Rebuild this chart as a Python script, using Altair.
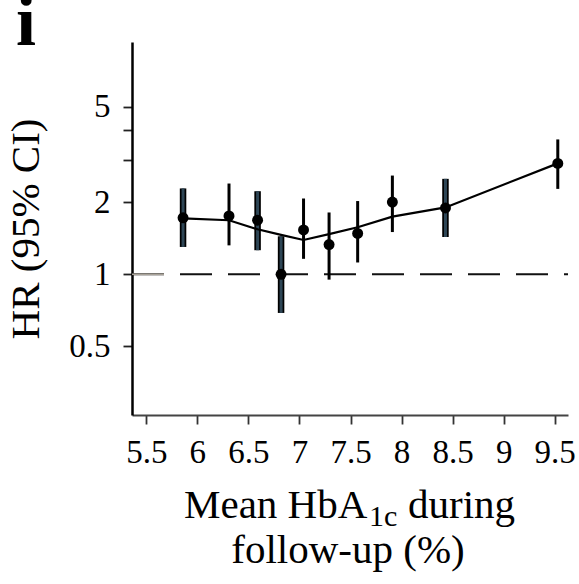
import altair as alt
import pandas as pd

# ---- data ----
hba1c   = [5.86, 6.31, 6.59, 6.82, 7.04, 7.29, 7.57, 7.91, 8.43, 9.53]
hr      = [1.72, 1.75, 1.68, 1.00, 1.53, 1.33, 1.48, 2.00, 1.89, 2.90]
ci_low  = [1.30, 1.32, 1.26, 0.69, 1.16, 0.95, 1.12, 1.50, 1.43, 2.27]
ci_high = [2.28, 2.39, 2.22, 1.44, 2.07, 1.81, 2.02, 2.58, 2.50, 3.65]
fit_hr  = [1.71, 1.68, 1.54, 1.46, 1.39, 1.47, 1.57, 1.74, 1.90, 2.90]
wide_ci = [True, False, True, True, False, False, False, False, True, False]

x_ticks = [5.5, 6, 6.5, 7, 7.5, 8, 8.5, 9, 9.5]
y_ticks = [0.5, 1, 2, 3, 4, 5]
ref_hr = [1.0]

panel_label = "i"
ytitle = "HR (95% CI)"
xtitle_main = "Mean HbA"
xtitle_sub = "1c"
xtitle_rest = "during"
xtitle_line2 = "follow-up (%)"

W, H = 436, 373
FONT = "Liberation Serif"

df = pd.DataFrame({"x": hba1c, "hr": hr, "lo": ci_low, "hi": ci_high,
                   "fit": fit_hr, "wide": wide_ci})
ref = pd.DataFrame({"y": ref_hr})

xs = alt.Scale(domain=[5.36, 9.63], nice=False, zero=False)
ys = alt.Scale(type="log", domain=[0.259, 9.3], nice=False)

xaxis = alt.Axis(values=x_ticks, format="~g", title=None, grid=False,
                 labelFont=FONT, labelFontSize=33, labelColor="black",
                 tickSize=9, tickWidth=1.8, tickColor="#333",
                 domainColor="#444", domainWidth=2, labelPadding=12,
                 labelFlush=False, labelOverlap=False)
yaxis = alt.Axis(values=y_ticks, format="~g", grid=False,
                 labelExpr="datum.value == 3 || datum.value == 4 ? '' : datum.label",
                 labelFont=FONT, labelFontSize=33, labelColor="black",
                 tickSize=9, tickWidth=1.8, tickColor="#222",
                 domainColor="black", domainWidth=2.5, labelPadding=13,
                 labelFlush=False, labelOverlap=False,
                 title=ytitle, titleFont=FONT, titleFontSize=41,
                 titleFontWeight="normal", titleColor="black",
                 titleAngle=270, titleX=-94, titleY=H / 2,
                 titleAlign="center", titleBaseline="alphabetic")

base = alt.Chart(df)

refline = alt.Chart(ref).mark_rule(color="#111", strokeWidth=2,
                                   strokeDash=[32, 16]).encode(
    y=alt.Y("y:Q", scale=ys, axis=yaxis),
    x=alt.value(0), x2=alt.value(W))
refgrey = alt.Chart(ref).mark_rule(color="#a8a298", strokeWidth=1.6).encode(
    y=alt.Y("y:Q", scale=ys), x=alt.value(0), x2=alt.value(32))

bars_thin = base.transform_filter("!datum.wide").mark_rule(
    color="black", strokeWidth=3).encode(
    x=alt.X("x:Q", scale=xs, axis=xaxis),
    y=alt.Y("lo:Q", scale=ys), y2="hi:Q")
bars_wide_outer = base.transform_filter("datum.wide").mark_rule(
    color="black", strokeWidth=6.5).encode(
    x=alt.X("x:Q", scale=xs), y=alt.Y("lo:Q", scale=ys), y2="hi:Q")
bars_wide_inner = base.transform_filter("datum.wide").mark_rule(
    color="#2e4656", strokeWidth=3).encode(
    x=alt.X("x:Q", scale=xs), y=alt.Y("lo:Q", scale=ys), y2="hi:Q")

fitline = base.mark_line(color="black", strokeWidth=2.2).encode(
    x=alt.X("x:Q", scale=xs), y=alt.Y("fit:Q", scale=ys))

points = base.mark_point(filled=True, color="black", size=120,
                         opacity=1, shape="circle").encode(
    x=alt.X("x:Q", scale=xs), y=alt.Y("hr:Q", scale=ys))

def txt(s, x, y, size, weight="normal", align="left"):
    return alt.Chart(pd.DataFrame({"t": [s]})).mark_text(
        font=FONT, fontSize=size, fontWeight=weight, color="black",
        align=align, baseline="alphabetic").encode(
        text="t:N", x=alt.value(x), y=alt.value(y))

label_i = txt(panel_label, -116, 3, 72, weight="bold")
t1 = txt(xtitle_main, 52, 476, 41)
t2 = txt(xtitle_sub, 237, 484, 30)
t3 = txt(xtitle_rest, 276, 476, 41)
t4 = txt(xtitle_line2, 216, 521, 41, align="center")

chart = alt.layer(
    refline, refgrey, bars_thin, bars_wide_outer, bars_wide_inner,
    fitline, points, label_i, t1, t2, t3, t4
).properties(
    width=W, height=H,
    autosize=alt.AutoSizeParams(type="none"),
    padding={"left": 132, "top": 42, "right": 11, "bottom": 169},
).configure(background="white").configure_view(stroke=None)

chart.save("out.html", embed_options={"renderer": "svg", "actions": False})
